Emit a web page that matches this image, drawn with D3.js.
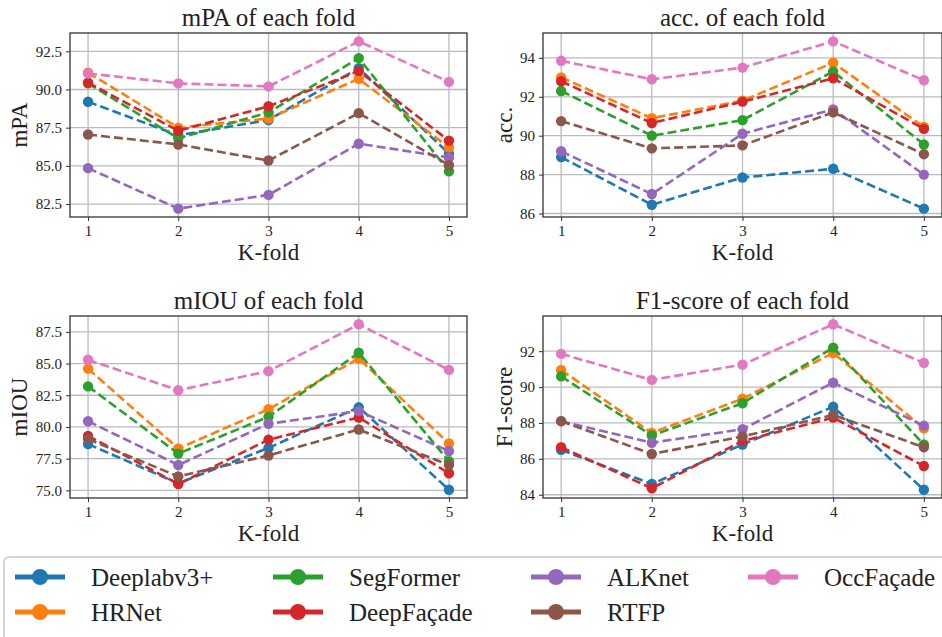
<!DOCTYPE html>
<html>
<head>
<meta charset="utf-8">
<script src="https://cdn.jsdelivr.net/npm/d3@7"></script>
<style>
  body { margin: 0; background: #fff; }
</style>
</head>
<body>
<svg id="chart" width="942" height="637"></svg>
<script>
(function() {
    const FONT = '"Liberation Serif", "Times New Roman", serif';

    // folds on the x axis
    const folds = [1, 2, 3, 4, 5];
    const models = ["Deeplabv3+", "HRNet", "SegFormer", "DeepFaçade", "ALKnet", "RTFP", "OccFaçade"];
    const colors = ["#1f77b4", "#ff7f0e", "#2ca02c", "#d62728", "#9467bd", "#8c564b", "#e377c2"];

    // one row per model, same order as `models`
    const mPA = [
        [89.2, 87.0, 88.0, 91.4, 85.8],
        [91.1, 87.5, 88.1, 90.7, 86.2],
        [90.4, 86.8, 88.5, 92.05, 84.65],
        [90.45, 87.3, 88.9, 91.2, 86.65],
        [84.85, 82.2, 83.1, 86.45, 85.55],
        [87.05, 86.4, 85.35, 88.45, 85.05],
        [91.05, 90.4, 90.2, 93.15, 90.5]
    ];
    const acc = [
        [88.9, 86.45, 87.85, 88.3, 86.25],
        [93.0, 90.9, 91.8, 93.75, 90.45],
        [92.3, 90.0, 90.8, 93.3, 89.55],
        [92.8, 90.65, 91.75, 92.95, 90.35],
        [89.2, 87.0, 90.1, 91.35, 88.0],
        [90.75, 89.35, 89.5, 91.2, 89.05],
        [93.85, 92.9, 93.5, 94.85, 92.85]
    ];
    const mIOU = [
        [78.65, 75.55, 78.35, 81.55, 75.05],
        [84.6, 78.3, 81.4, 85.4, 78.7],
        [83.2, 77.9, 80.8, 85.85, 77.3],
        [79.3, 75.5, 79.0, 80.75, 76.35],
        [80.45, 77.0, 80.25, 81.25, 78.1],
        [79.05, 76.1, 77.75, 79.8, 77.0],
        [85.3, 82.9, 84.4, 88.1, 84.5]
    ];
    const f1 = [
        [86.5, 84.6, 86.8, 88.9, 84.28],
        [90.95, 87.45, 89.35, 91.9, 87.7],
        [90.6, 87.3, 89.1, 92.2, 86.8],
        [86.65, 84.36, 87.0, 88.3, 85.6],
        [88.1, 86.9, 87.65, 90.25, 87.85],
        [88.1, 86.27, 87.25, 88.45, 86.65],
        [91.85, 90.4, 91.25, 93.5, 91.35]
    ];

    // tick labels
    const mpaTicks = [82.5, 85.0, 87.5, 90.0, 92.5];
    const accTicks = [86, 88, 90, 92, 94];
    const miouTicks = [75.0, 77.5, 80.0, 82.5, 85.0, 87.5];
    const f1Ticks = [84, 86, 88, 90, 92];

    const svg = d3.select("#chart");

    const panels = [
        { title: "mPA of each fold", ylabel: "mPA", data: mPA, ticks: mpaTicks, fmt: ".1f",
          left: 70, right: 467, top: 33, bottom: 217, labelX: 27 },
        { title: "acc. of each fold", ylabel: "acc.", data: acc, ticks: accTicks, fmt: "d",
          left: 543, right: 942, top: 33, bottom: 217, labelX: 512 },
        { title: "mIOU of each fold", ylabel: "mIOU", data: mIOU, ticks: miouTicks, fmt: ".1f",
          left: 70, right: 467, top: 316, bottom: 498, labelX: 27 },
        { title: "F1-score of each fold", ylabel: "F1-score", data: f1, ticks: f1Ticks, fmt: "d",
          left: 543, right: 942, top: 316, bottom: 498, labelX: 512 }
    ];

    panels.forEach(p => {
        const g = svg.append("g");

        // matplotlib style 5% margins
        const x = d3.scaleLinear()
            .domain([0.8, 5.2])
            .range([p.left, p.right]);
        const [lo, hi] = d3.extent(p.data.flat());
        const pad = (hi - lo) * 0.05;
        const y = d3.scaleLinear()
            .domain([lo - pad, hi + pad])
            .range([p.bottom, p.top]);

        // grid
        g.append("g")
            .selectAll("line")
            .data(folds)
            .join("line")
            .attr("x1", d => x(d)).attr("x2", d => x(d))
            .attr("y1", p.top).attr("y2", p.bottom)
            .attr("stroke", "#b8bcc0").attr("stroke-width", 1.3);
        g.append("g")
            .selectAll("line")
            .data(p.ticks)
            .join("line")
            .attr("x1", p.left).attr("x2", p.right)
            .attr("y1", d => y(d)).attr("y2", d => y(d))
            .attr("stroke", "#b8bcc0").attr("stroke-width", 1.3);

        // axes
        const xAxis = g.append("g")
            .attr("transform", `translate(0,${p.bottom})`)
            .call(d3.axisBottom(x).tickValues(folds).tickFormat(d3.format("d")).tickSize(4).tickPadding(4));
        const yAxis = g.append("g")
            .attr("transform", `translate(${p.left},0)`)
            .call(d3.axisLeft(y).tickValues(p.ticks).tickFormat(d3.format(p.fmt)).tickSize(4).tickPadding(4));
        [xAxis, yAxis].forEach(a => {
            a.attr("font-family", null).attr("font-size", null);
            a.select(".domain").remove();
            a.selectAll(".tick line").attr("stroke", "#333").attr("stroke-width", 1);
            a.selectAll(".tick text")
                .style("font-family", FONT)
                .style("font-size", "15px")
                .attr("fill", "#222");
        });

        // series
        const line = d3.line()
            .x((d, i) => x(folds[i]))
            .y(d => y(d));

        p.data.forEach((row, k) => {
            g.append("path")
                .datum(row)
                .attr("d", line)
                .attr("fill", "none")
                .attr("stroke", colors[k])
                .attr("stroke-width", 2.6)
                .attr("stroke-dasharray", "9,4");
            g.append("g")
                .selectAll("circle")
                .data(row)
                .join("circle")
                .attr("cx", (d, i) => x(folds[i]))
                .attr("cy", d => y(d))
                .attr("r", 5.2)
                .attr("fill", colors[k]);
        });

        // frame
        g.append("rect")
            .attr("x", p.left).attr("y", p.top)
            .attr("width", p.right - p.left).attr("height", p.bottom - p.top)
            .attr("fill", "none")
            .attr("stroke", "#333")
            .attr("stroke-width", 1.3);

        // labels
        g.append("text")
            .attr("x", (p.left + p.right) / 2)
            .attr("y", p.top - 7)
            .attr("text-anchor", "middle")
            .style("font-family", FONT)
            .style("font-size", "25px")
            .attr("fill", "#222")
            .text(p.title);
        g.append("text")
            .attr("x", (p.left + p.right) / 2)
            .attr("y", p.bottom + 43)
            .attr("text-anchor", "middle")
            .style("font-family", FONT)
            .style("font-size", "23px")
            .attr("fill", "#222")
            .text("K-fold");
        g.append("text")
            .attr("transform", `translate(${p.labelX},${(p.top + p.bottom) / 2}) rotate(-90)`)
            .attr("text-anchor", "middle")
            .style("font-family", FONT)
            .style("font-size", "23px")
            .attr("fill", "#222")
            .text(p.ylabel);
    });

    // legend, filled column by column (4 columns x 2 rows)
    const legend = svg.append("g");
    legend.append("rect")
        .attr("x", 4).attr("y", 557)
        .attr("width", 945).attr("height", 90)
        .attr("rx", 5)
        .attr("fill", "#fff")
        .attr("stroke", "#c8c8c8")
        .attr("stroke-width", 1.5);

    const colX = [15, 273, 531, 748];
    const rowY = [577, 612];

    models.forEach((m, k) => {
        const cx = colX[Math.floor(k / 2)];
        const cy = rowY[k % 2];
        const item = legend.append("g").attr("transform", `translate(${cx},${cy})`);
        item.append("line")
            .attr("x1", 0).attr("x2", 50)
            .attr("y1", 0).attr("y2", 0)
            .attr("stroke", colors[k])
            .attr("stroke-width", 5);
        item.append("circle")
            .attr("cx", 25).attr("cy", 0)
            .attr("r", 8)
            .attr("fill", colors[k]);
        item.append("text")
            .attr("x", 76)
            .attr("y", 0)
            .attr("dy", "0.35em")
            .style("font-family", FONT)
            .style("font-size", "25px")
            .attr("fill", "#222")
            .text(m);
    });
})();
</script>
</body>
</html>
